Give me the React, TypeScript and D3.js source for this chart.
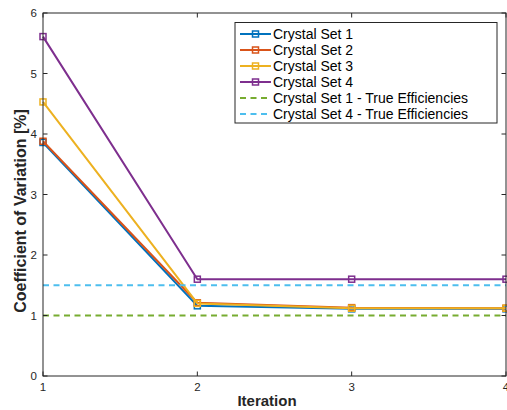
import React from "react";
import * as d3 from "d3";

const iterations = [1, 2, 3, 4];
const set1 = [3.86, 1.16, 1.11, 1.11];
const set2 = [3.88, 1.21, 1.13, 1.12];
const set3 = [4.53, 1.2, 1.12, 1.12];
const set4 = [5.61, 1.6, 1.6, 1.6];
const trueEff1 = 1.0;
const trueEff4 = 1.5;
const xTicks = [1, 2, 3, 4];
const yTicks = [0, 1, 2, 3, 4, 5, 6];

const series = [
  { name: "Crystal Set 1", values: set1, color: "#0072BD" },
  { name: "Crystal Set 2", values: set2, color: "#D95319" },
  { name: "Crystal Set 3", values: set3, color: "#EDB120" },
  { name: "Crystal Set 4", values: set4, color: "#7E2F8E" },
];
const refLines = [
  { name: "Crystal Set 1 - True Efficiencies", value: trueEff1, color: "#77AC30" },
  { name: "Crystal Set 4 - True Efficiencies", value: trueEff4, color: "#4DBEEE" },
];

const W = 507, H = 410;
const L = 43, R = 506, T = 13, B = 376;

export default function App() {
  const x = d3.scaleLinear().domain([1, 4]).range([L, R]);
  const y = d3.scaleLinear().domain([0, 6]).range([B, T]);
  const line = d3.line<number>().x((_, i) => x(iterations[i])).y((d) => y(d));
  const font = "'Liberation Sans', Arial, Helvetica, sans-serif";
  const axisColor = "#262626";
  const tickLen = 4.5;
  const legX = 235, legY = 22.5, legW = 262, legH = 100.5;
  return (
    <svg width={W} height={H} style={{ position: "absolute", left: 0, top: 0 }} fontFamily={font}>
      <rect x={0} y={0} width={W} height={H} fill="#fff" />
      {series.map((s) => (
        <g key={s.name}>
          <path d={line(s.values) || ""} fill="none" stroke={s.color} strokeWidth={2} strokeLinejoin="round" />
          {s.values.map((v, i) => (
            <rect key={i} x={x(iterations[i]) - 3} y={y(v) - 3} width={6} height={6} fill="none" stroke={s.color} strokeWidth={1.5} />
          ))}
        </g>
      ))}
      {refLines.map((r) => (
        <line key={r.name} x1={L} x2={R} y1={y(r.value)} y2={y(r.value)} stroke={r.color} strokeWidth={2} strokeDasharray="6,4.5" />
      ))}
      <rect x={L} y={T} width={R - L} height={B - T} fill="none" stroke={axisColor} strokeWidth={1} />
      {xTicks.map((t) => (
        <g key={t}>
          <line x1={x(t)} x2={x(t)} y1={B} y2={B - tickLen} stroke={axisColor} />
          <line x1={x(t)} x2={x(t)} y1={T} y2={T + tickLen} stroke={axisColor} />
          <text x={x(t)} y={B + 15} fontSize={11.5} textAnchor="middle" fill={axisColor}>{t}</text>
        </g>
      ))}
      {yTicks.map((t) => (
        <g key={t}>
          <line x1={L} x2={L + tickLen} y1={y(t)} y2={y(t)} stroke={axisColor} />
          <line x1={R} x2={R - tickLen} y1={y(t)} y2={y(t)} stroke={axisColor} />
          <text x={L - 6} y={y(t) + 4} fontSize={11.5} textAnchor="end" fill={axisColor}>{t}</text>
        </g>
      ))}
      <text x={267} y={406} fontSize={15} fontWeight="bold" textAnchor="middle" fill={axisColor}>Iteration</text>
      <text transform={`translate(26,211) rotate(-90)`} fontSize={16} fontWeight="bold" textAnchor="middle" fill={axisColor}>Coefficient of Variation [%]</text>
      <rect x={legX} y={legY} width={legW} height={legH} fill="#fff" stroke={axisColor} strokeWidth={1} />
      {series.map((s, i) => {
        const ly = 34 + i * 16;
        return (
          <g key={s.name}>
            <line x1={240} x2={271} y1={ly} y2={ly} stroke={s.color} strokeWidth={2} />
            <rect x={252.5} y={ly - 3} width={6} height={6} fill="none" stroke={s.color} strokeWidth={1.5} />
            <text x={273} y={ly + 5} fontSize={14} fill="#000">{s.name}</text>
          </g>
        );
      })}
      {refLines.map((r, j) => {
        const ly = 34 + (4 + j) * 16;
        return (
          <g key={r.name}>
            <line x1={240} x2={271} y1={ly} y2={ly} stroke={r.color} strokeWidth={2} strokeDasharray="6,4.5" />
            <text x={273} y={ly + 5} fontSize={14} fill="#000">{r.name}</text>
          </g>
        );
      })}
    </svg>
  );
}
